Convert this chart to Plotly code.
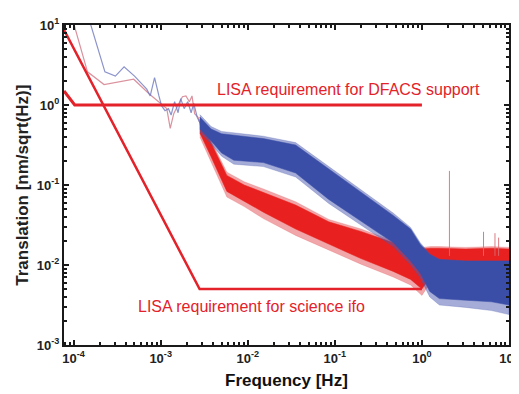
import plotly.graph_objects as go

# ---------------- data ----------------
# thin low-frequency parts (log10 frequency, value)
red_thin_logf = [-4.02, -3.84, -3.65, -3.31, -3.13, -2.98, -2.93, -2.89, -2.85, -2.80, -2.75, -2.71, -2.67, -2.64, -2.61, -2.57, -2.53]
red_thin_val = [12.6, 2.6, 1.8, 2.1, 1.37, 1.0, 0.9, 0.51, 0.78, 1.0, 1.27, 1.3, 1.1, 1.3, 0.78, 0.7, 0.5]

blue_thin_logf = [-3.83, -3.64, -3.52, -3.42, -3.30, -3.16, -3.12, -3.07, -3.02, -2.99, -2.95, -2.91, -2.88, -2.84, -2.80, -2.77, -2.73, -2.69, -2.65, -2.62, -2.58, -2.55]
blue_thin_val = [12.6, 2.6, 2.3, 3.0, 2.3, 1.58, 1.3, 2.2, 1.3, 0.98, 0.85, 0.9, 0.75, 1.1, 0.8, 1.2, 0.9, 1.1, 0.8, 1.05, 0.7, 0.6]

# noisy bands: log10 frequency, log10 dense-core envelope and spike-tip envelope
red_band_logf = [-2.55, -2.42, -2.24, -2.04, -1.82, -1.45, -1.07, -0.70, -0.33, -0.13, 0.0, 0.10, 0.20, 0.50, 0.80, 1.0]
red_core_up = [-0.18, -0.48, -0.88, -1.00, -1.09, -1.25, -1.46, -1.58, -1.72, -1.78, -1.80, -1.79, -1.79, -1.80, -1.79, -1.80]
red_core_lo = [-0.35, -0.65, -1.08, -1.20, -1.34, -1.55, -1.74, -1.92, -2.08, -2.18, -2.30, -2.15, -2.00, -1.98, -1.98, -1.98]
red_tip_up = [-0.15, -0.45, -0.84, -0.96, -1.05, -1.21, -1.43, -1.55, -1.70, -1.76, -1.78, -1.77, -1.77, -1.78, -1.77, -1.78]
red_tip_lo = [-0.40, -0.72, -1.15, -1.27, -1.42, -1.63, -1.81, -1.99, -2.15, -2.25, -2.38, -2.22, -2.05, -2.02, -2.02, -2.02]

blue_band_logf = [-2.55, -2.42, -2.30, -2.16, -1.82, -1.45, -1.07, -0.70, -0.47, -0.33, -0.13, -0.02, 0.09, 0.20, 0.50, 0.80, 1.0]
blue_core_up = [-0.15, -0.30, -0.36, -0.38, -0.42, -0.50, -0.80, -1.09, -1.27, -1.38, -1.55, -1.74, -1.87, -1.93, -1.95, -1.95, -1.95]
blue_core_lo = [-0.30, -0.45, -0.60, -0.69, -0.72, -0.85, -1.18, -1.45, -1.62, -1.72, -1.95, -2.10, -2.33, -2.42, -2.44, -2.46, -2.50]
blue_tip_up = [-0.12, -0.27, -0.33, -0.35, -0.39, -0.47, -0.77, -1.06, -1.24, -1.35, -1.53, -1.72, -1.86, -1.93, -1.95, -1.95, -1.95]
blue_tip_lo = [-0.34, -0.49, -0.64, -0.74, -0.77, -0.90, -1.23, -1.50, -1.67, -1.77, -2.00, -2.16, -2.40, -2.50, -2.53, -2.57, -2.62]

# narrow line spikes at high frequency: frequency, base, top
spike_f = [2.07, 5.1, 6.9, 7.6]
spike_top = [0.15, 0.026, 0.025, 0.022]
spike_base = [0.013, 0.013, 0.013, 0.013]

# requirement curves
dfacs_f = [10 ** -4.11, 1.03e-4, 1.0]
dfacs_v = [1.5, 1.0, 1.0]
sci_f = [10 ** -4.11, 2.8e-3, 1.0]
sci_v = [8.7, 5.0e-3, 5.0e-3]

x_tick_vals = [1e-4, 1e-3, 1e-2, 1e-1, 1, 10]
x_tick_text = ["10<sup>-4</sup>", "10<sup>-3</sup>", "10<sup>-2</sup>", "10<sup>-1</sup>", "10<sup>0</sup>", "10<sup>1</sup>"]
y_tick_vals = [1e-3, 1e-2, 1e-1, 1, 10]
y_tick_text = ["10<sup>-3</sup>", "10<sup>-2</sup>", "10<sup>-1</sup>", "10<sup>0</sup>", "10<sup>1</sup>"]

RED = "#e8201f"
RED_FUZZ = "rgba(228,80,85,0.5)"
BLUE = "#3a4ea8"
BLUE_FUZZ = "rgba(75,90,175,0.5)"
REQ = "#e3222a"
FONT = "Liberation Sans, Arial, sans-serif"

fig = go.Figure()


def band(logf, up, lo, color):
    xs = [10 ** v for v in logf] + [10 ** v for v in logf[::-1]]
    ys = [10 ** v for v in up] + [10 ** v for v in lo[::-1]]
    return go.Scatter(x=xs, y=ys, fill="toself", fillcolor=color, mode="lines",
                      line=dict(color=color, width=0.5), hoverinfo="skip")


# red data
fig.add_trace(go.Scatter(x=[10 ** v for v in red_thin_logf], y=red_thin_val, mode="lines",
                         line=dict(color="rgba(205,110,125,0.75)", width=1.2)))
fig.add_trace(band(red_band_logf, red_tip_up, red_tip_lo, RED_FUZZ))
fig.add_trace(band(red_band_logf, red_core_up, red_core_lo, RED))
for f, b, t in zip(spike_f, spike_base, spike_top):
    fig.add_trace(go.Scatter(x=[f, f], y=[b, t], mode="lines",
                             line=dict(color="rgba(215,110,115,0.9)", width=1)))

# blue data
fig.add_trace(go.Scatter(x=[10 ** v for v in blue_thin_logf], y=blue_thin_val, mode="lines",
                         line=dict(color="rgba(110,120,190,0.8)", width=1.2)))
fig.add_trace(band(blue_band_logf, blue_tip_up, blue_tip_lo, BLUE_FUZZ))
fig.add_trace(band(blue_band_logf, blue_core_up, blue_core_lo, BLUE))

# requirements
fig.add_trace(go.Scatter(x=dfacs_f, y=dfacs_v, mode="lines", line=dict(color=REQ, width=3)))
fig.add_trace(go.Scatter(x=sci_f, y=sci_v, mode="lines", line=dict(color=REQ, width=2.5)))

fig.add_annotation(x=-2.38, y=0.2, xref="x", yref="y", text="LISA requirement for DFACS support",
                   showarrow=False, xanchor="left", yanchor="middle",
                   font=dict(family=FONT, size=16, color=REQ))
fig.add_annotation(x=-3.28, y=-2.52, xref="x", yref="y", text="LISA requirement for science ifo",
                   showarrow=False, xanchor="left", yanchor="middle",
                   font=dict(family=FONT, size=16, color=REQ))

# axis titles
fig.add_annotation(x=-0.095, y=0.5, xref="paper", yref="paper", text="<b>Translation [nm/sqrt(Hz)]</b>",
                   textangle=-90, showarrow=False, xanchor="center", yanchor="middle",
                   font=dict(family=FONT, size=17, color="#222"))
fig.add_annotation(x=0.5, y=-0.111, xref="paper", yref="paper", text="<b>Frequency [Hz]</b>",
                   showarrow=False, xanchor="center", yanchor="middle",
                   font=dict(family=FONT, size=17, color="#111"))

axis_common = dict(showline=True, linecolor="#1a1a1a", linewidth=2, mirror="ticks",
                   ticks="inside", ticklen=5, tickcolor="#1a1a1a", tickwidth=1.5,
                   showgrid=False, zeroline=False,
                   minor=dict(ticks="inside", ticklen=3, tickcolor="#1a1a1a", dtick="D1", showgrid=False),
                   tickfont=dict(family=FONT, size=13, color="#222"))

fig.update_xaxes(type="log", range=[-4.11, 1.0], tickvals=x_tick_vals,
                 ticktext=["<b>" + t + "</b>" for t in x_tick_text], **axis_common)
fig.update_yaxes(type="log", range=[-3.0, 1.0], tickvals=y_tick_vals,
                 ticktext=["<b>" + t + "</b>" for t in y_tick_text], **axis_common)

# the page places the figure 8px down, so the height is reduced to fit the window
fig.update_layout(width=519, height=386, showlegend=False,
                  margin=dict(l=56, r=8, t=12, b=49),
                  paper_bgcolor="white", plot_bgcolor="white")

fig.write_html("out.html")
